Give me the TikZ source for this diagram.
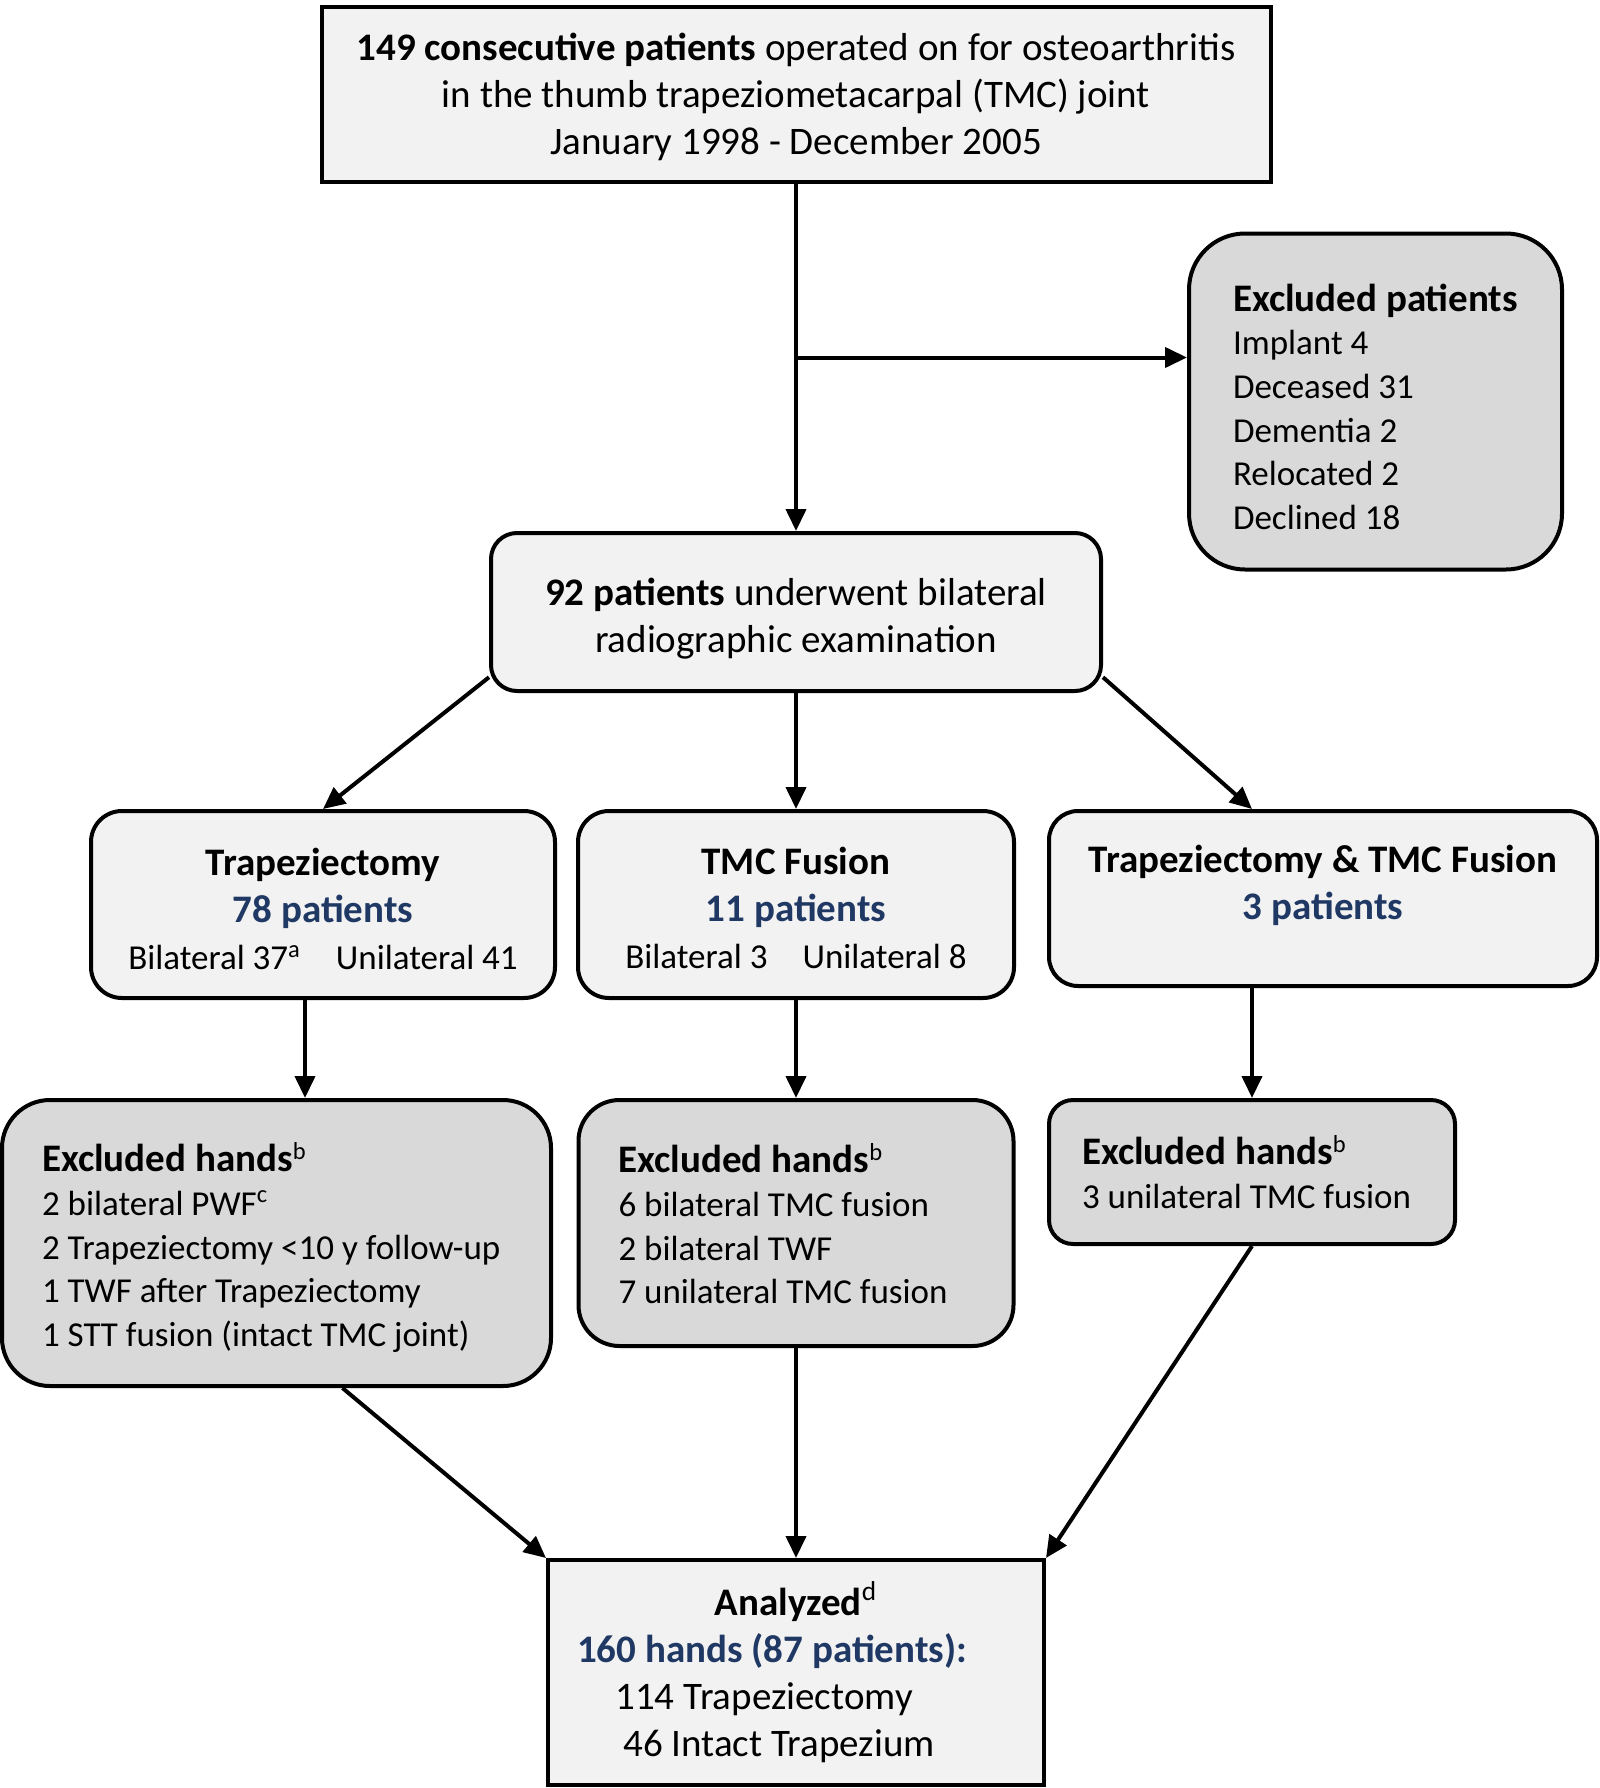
\documentclass[tikz,border=0pt]{standalone}
\usepackage{fontspec}
\setmainfont{Carlito}
\usepackage{xcolor}
\usetikzlibrary{positioning, calc, arrows.meta}
\definecolor{navy}{HTML}{1F3864}
\definecolor{lightfill}{HTML}{F2F2F2}
\definecolor{darkfill}{HTML}{D9D9D9}
\newcommand{\boxfont}{\fontsize{19.5pt}{23.5pt}\selectfont}
\newcommand{\listfont}{\fontsize{17.5pt}{21.8pt}\selectfont}
\newcommand{\pat}[1]{\textcolor{navy}{\textbf{#1}}}
\newcommand{\head}[1]{{\fontsize{19.5pt}{21.8pt}\selectfont\textbf{#1}}}
\newcommand{\sides}[1]{{\fontsize{17.5pt}{23.5pt}\selectfont #1}}
\newcommand{\drop}[1]{\rule{0pt}{#1}}
\tikzstyle{mainbox} = [rectangle, draw=black, line width=2pt, fill=lightfill, align=center, font=\boxfont, inner sep=0pt]
\tikzstyle{excludebox} = [rectangle, draw=black, line width=2pt, fill=darkfill, align=flush left, font=\listfont, inner xsep=20pt, inner ysep=0pt]
\tikzstyle{arrow} = [line width=2pt, -{Triangle[length=11pt,width=10pt]}]

\begin{document}
\begin{tikzpicture}

    \useasboundingbox (0,0) rectangle (800pt,-894pt);

    % Boxes
    \node (top) [mainbox, minimum width=474.5pt, minimum height=87.5pt] at (398pt,-47.25pt)
        {\drop{16pt}\textbf{149 consecutive patients} operated on for osteoarthritis\\ in the thumb trapeziometacarpal (TMC) joint\\ January 1998 - December 2005};
    \node (p92) [mainbox, rounded corners=13pt, minimum width=305pt, minimum height=79pt, below=173.5pt of top]
        {\drop{20.5pt}\textbf{92 patients} underwent bilateral\\ radiographic examination};
    \coordinate (split) at ($(top.south)!0.5!(p92.north)$);
    \node (excl) [excludebox, rounded corners=28pt, inner xsep=22pt, text width=142.5pt, minimum height=168pt, right=195.5pt of split, yshift=-22pt]
        {\drop{19pt}\head{Excluded patients}\\ Implant 4\\ Deceased 31\\ Dementia 2\\ Relocated 2\\ Declined 18};

    \node (tmc) [mainbox, rounded corners=15.5pt, minimum width=218pt, minimum height=93.5pt, below=58pt of p92]
        {\drop{16.7pt}\textbf{TMC Fusion}\\ \pat{11 patients}\\ \sides{Bilateral 3\hspace{1em}Unilateral 8}};
    \node (trap) [mainbox, rounded corners=15.5pt, minimum width=232pt, minimum height=93.5pt, left=9.5pt of tmc.north west, anchor=north east]
        {\drop{18.5pt}\textbf{Trapeziectomy}\\ \pat{78 patients}\\ \sides{Bilateral 37\textsuperscript{a}\hspace{1em}Unilateral 41}};
    \node (both) [mainbox, rounded corners=14.5pt, minimum width=274pt, minimum height=87.5pt, right=15.5pt of tmc.north east, anchor=north west]
        {\drop{20.7pt}\textbf{Trapeziectomy \& TMC Fusion}\\ \pat{3 patients}\\ ~};

    \node (exM) [excludebox, rounded corners=20.5pt, text width=177.5pt, minimum height=123pt, below=49pt of tmc]
        {\drop{15.5pt}\head{Excluded hands}\textsuperscript{b}\\ 6 bilateral TMC fusion\\ 2 bilateral TWF\\ 7 unilateral TMC fusion};
    \node (exL) [excludebox, rounded corners=24pt, text width=234.5pt, minimum height=143pt, left=11.75pt of exM.north west, anchor=north east]
        {\drop{19pt}\head{Excluded hands}\textsuperscript{b}\\ 2 bilateral PWF\textsuperscript{c}\\ 2 Trapeziectomy <10 y follow-up\\ 1 TWF after Trapeziectomy\\ 1 STT fusion (intact TMC joint)};
    \node (exR) [excludebox, rounded corners=12pt, inner xsep=16.5pt, text width=170pt, minimum height=72pt, right=15.75pt of exM.north east, anchor=north west]
        {\head{Excluded hands}\textsuperscript{b}\\ 3 unilateral TMC fusion};

    \node (anal) [mainbox, minimum width=248pt, minimum height=112.5pt, below=105pt of exM]
        {\textbf{Analyzed}\textsuperscript{d}\\ \mbox{\pat{160 hands (87 patients):}\hspace{24pt}}\\ \mbox{114 Trapeziectomy\hspace{32pt}}\\ \mbox{46 Intact Trapezium\hspace{17pt}}};

    % Arrows
    \draw [arrow] (top.south) -- (p92.north);
    \draw [arrow] (split) -- (split -| excl.west);
    \draw [arrow] (p92.192) -- (trap.north);
    \draw [arrow] (p92.south) -- (tmc.north);
    \draw [arrow] (p92.-12) -- (exR.north |- both.north);
    \draw [arrow] ([xshift=-9pt]trap.south) -- ([xshift=-9pt]trap.south |- exL.north);
    \draw [arrow] (tmc.south) -- (exM.north);
    \draw [arrow] (exR.north |- both.south) -- (exR.north);
    \draw [arrow] ([xshift=33pt]exL.south) -- (anal.north west);
    \draw [arrow] (exM.south) -- (anal.north);
    \draw [arrow] (exR.south) -- (anal.north east);

\end{tikzpicture}
\end{document}
